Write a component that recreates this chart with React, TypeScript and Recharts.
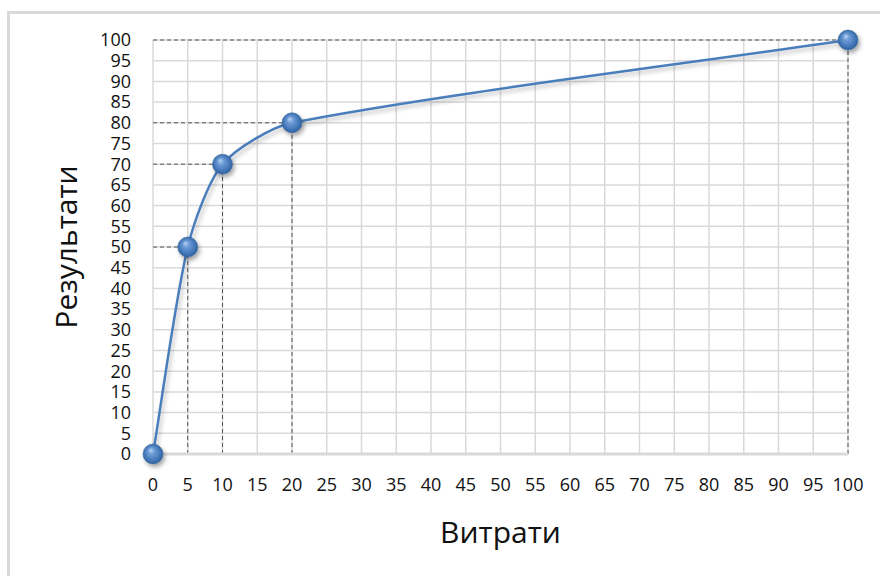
import {
  CartesianGrid,
  Label,
  Line,
  LineChart,
  ReferenceLine,
  XAxis,
  YAxis,
} from "recharts";

// Витрати (x) та результати (y)
const costs = [0, 5, 10, 20, 100];
const results = [0, 50, 70, 80, 100];

const xTicks = [0, 5, 10, 15, 20, 25, 30, 35, 40, 45, 50, 55, 60, 65, 70, 75, 80, 85, 90, 95, 100];
const yTicks = [0, 5, 10, 15, 20, 25, 30, 35, 40, 45, 50, 55, 60, 65, 70, 75, 80, 85, 90, 95, 100];

const xTitle = "Витрати";
const yTitle = "Результати";

const data = costs.map((x, i) => ({ x, y: results[i] }));

const FONT = "'Open Sans', 'Noto Sans', sans-serif";
const GRID = "#d9d9d9";
const DROP = "#555555";

// Excel-like smoothed line: tangent along neighbour chord, handle length scaled by segment length
function excelSmooth(context: any) {
  let pts: number[][] = [];
  const K = 0.25;
  const tangent = (i: number) => {
    const a = pts[Math.max(0, i - 1)];
    const b = pts[Math.min(pts.length - 1, i + 1)];
    const dx = b[0] - a[0];
    const dy = b[1] - a[1];
    const len = Math.hypot(dx, dy) || 1;
    return [dx / len, dy / len];
  };
  return {
    areaStart() {},
    areaEnd() {},
    lineStart() {
      pts = [];
    },
    point(x: number, y: number) {
      pts.push([+x, +y]);
    },
    lineEnd() {
      if (!pts.length) return;
      context.moveTo(pts[0][0], pts[0][1]);
      for (let i = 0; i < pts.length - 1; i++) {
        const p1 = pts[i];
        const p2 = pts[i + 1];
        const L = Math.hypot(p2[0] - p1[0], p2[1] - p1[1]);
        const t1 = tangent(i);
        const t2 = tangent(i + 1);
        context.bezierCurveTo(
          p1[0] + t1[0] * L * K,
          p1[1] + t1[1] * L * K,
          p2[0] - t2[0] * L * K,
          p2[1] - t2[1] * L * K,
          p2[0],
          p2[1]
        );
      }
    },
  };
}

function Sphere(props: any) {
  const { cx, cy, index } = props;
  if (cx == null || cy == null) return null;
  return (
    <g key={`dot-${index}`} filter="url(#dotShadow)">
      <circle cx={cx} cy={cy} r={10} fill="url(#sphere)" stroke="#3a6aa3" strokeWidth={0.6} />
    </g>
  );
}

export default function App() {
  const drops = data.filter((d) => d.x > 0 && d.y > 0);

  return (
    <div
      style={{
        position: "fixed",
        left: 0,
        top: 0,
        width: 880,
        height: 576,
        background: "#fff",
        overflow: "hidden",
      }}
    >
      <div
        style={{
          position: "absolute",
          left: 7,
          top: 11,
          width: 900,
          height: 600,
          borderTop: `3px solid ${GRID}`,
          borderLeft: `3px solid ${GRID}`,
        }}
      />
      <div style={{ position: "absolute", left: 0, top: 0 }}>
        <LineChart
          width={880}
          height={576}
          data={data}
          margin={{ top: 40, right: 32, bottom: 0, left: 0 }}
          style={{ fontFamily: FONT }}
        >
          <defs>
            <radialGradient id="sphere" cx="50%" cy="50%" r="55%" fx="38%" fy="30%">
              <stop offset="0%" stopColor="#b9d3f2" />
              <stop offset="30%" stopColor="#6c9bd6" />
              <stop offset="75%" stopColor="#3f73b4" />
              <stop offset="100%" stopColor="#2a5a94" />
            </radialGradient>
            <filter id="dotShadow" x="-50%" y="-50%" width="200%" height="200%">
              <feDropShadow dx="2" dy="3" stdDeviation="2" floodColor="#000" floodOpacity="0.35" />
            </filter>
            <filter id="lineShadow" x="-10%" y="-10%" width="120%" height="120%">
              <feDropShadow dx="2" dy="3" stdDeviation="2" floodColor="#000" floodOpacity="0.25" />
            </filter>
          </defs>
          <CartesianGrid stroke={GRID} strokeWidth={1.5} />
          <XAxis
            dataKey="x"
            type="number"
            domain={[0, 100]}
            ticks={xTicks}
            interval={0}
            height={122}
            tickSize={0}
            tickMargin={24}
            axisLine={{ stroke: GRID, strokeWidth: 3 }}
            tickLine={false}
            tick={{ fontSize: 18, fill: "#111", fontFamily: FONT }}
          >
            <Label
              content={(p: any) => {
                const vb = p.viewBox || { x: 153, y: 454, width: 695 };
                return (
                  <text
                    x={vb.x + vb.width / 2}
                    y={vb.y + 89}
                    textAnchor="middle"
                    fontSize={30}
                    fontFamily={FONT}
                    fill="#111"
                  >
                    {xTitle}
                  </text>
                );
              }}
            />
          </XAxis>
          <YAxis
            type="number"
            domain={[0, 100]}
            ticks={yTicks}
            interval={0}
            width={153}
            tickSize={0}
            tickMargin={22}
            axisLine={false}
            tickLine={false}
            tick={{ fontSize: 18, fill: "#111", fontFamily: FONT }}
          >
            <Label
              content={(p: any) => {
                const vb = p.viewBox || { x: 0, y: 40, height: 414 };
                const cy = vb.y + vb.height / 2;
                return (
                  <text
                    transform={`translate(77, ${cy}) rotate(-90)`}
                    textAnchor="middle"
                    fontSize={30}
                    fontFamily={FONT}
                    fill="#111"
                  >
                    {yTitle}
                  </text>
                );
              }}
            />
          </YAxis>
          {drops.map((d) => (
            <ReferenceLine
              key={`h-${d.x}`}
              segment={[
                { x: 0, y: d.y },
                { x: d.x, y: d.y },
              ]}
              stroke={DROP}
              strokeDasharray="4 3"
              strokeWidth={1}
            />
          ))}
          {drops.map((d) => (
            <ReferenceLine
              key={`v-${d.x}`}
              segment={[
                { x: d.x, y: 0 },
                { x: d.x, y: d.y },
              ]}
              stroke={DROP}
              strokeDasharray="4 3"
              strokeWidth={1}
            />
          ))}
          <Line
            type={excelSmooth as any}
            dataKey="y"
            stroke="#4a7ebb"
            strokeWidth={2.5}
            dot={<Sphere />}
            activeDot={false}
            isAnimationActive={false}
            filter="url(#lineShadow)"
          />
        </LineChart>
      </div>
    </div>
  );
}
